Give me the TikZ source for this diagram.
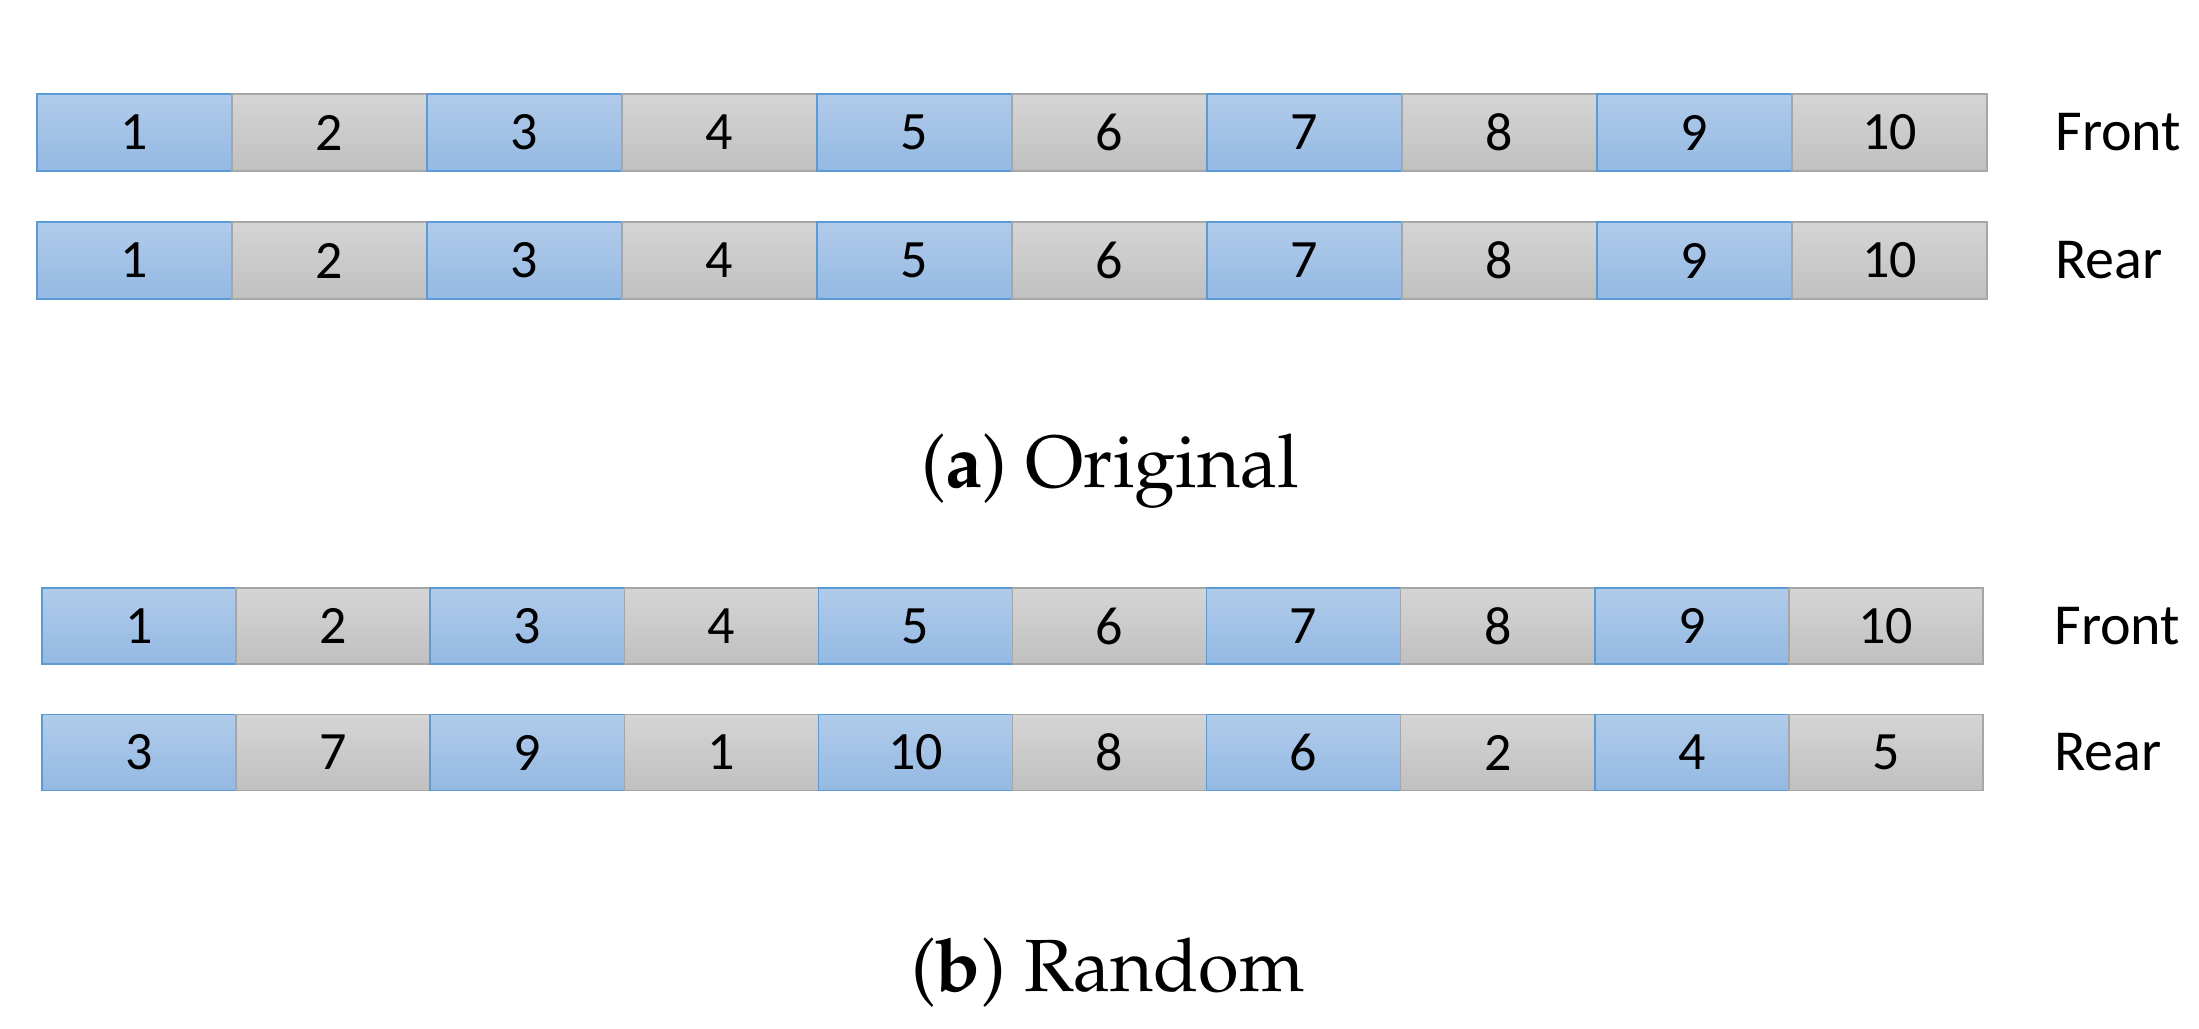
\documentclass[tikz,border=0pt]{standalone}
\usepackage[T1]{fontenc}
\usepackage{fontspec}
\setmainfont{Carlito}
\newcommand\palfont{\fontencoding{T1}\fontfamily{ppl}\selectfont}
\definecolor{bluetop}{RGB}{177,203,234}
\definecolor{bluebot}{RGB}{148,185,227}
\definecolor{bluebd}{RGB}{91,155,213}
\definecolor{graytop}{RGB}{213,213,213}
\definecolor{graybot}{RGB}{192,192,192}
\definecolor{graybd}{RGB}{166,166,166}
\begin{document}
\begin{tikzpicture}[x=0.5pt,y=-0.5pt,
  cell/.style={line width=0.75pt, inner sep=0pt, font=\fontsize{27}{30}\selectfont},
  lab/.style={anchor=west, inner sep=0pt, font=\fontsize{29}{32}\selectfont},
  capt/.style={anchor=base, inner sep=0pt, font=\palfont\fontsize{37}{40}\selectfont}]
\useasboundingbox (0,0) rectangle (2199,1028);
% (a) front
\foreach \n [count=\i] in {1,2,3,4,5,6,7,8,9,10} {
  \ifodd\i \def\tc{bluetop}\def\bc{bluebot}\def\dc{bluebd}\else\def\tc{graytop}\def\bc{graybot}\def\dc{graybd}\fi
  \node[cell, top color=\tc, bottom color=\bc, draw=\dc, minimum width=97.5pt, minimum height=38.5pt] (af\i) at ({37+195*(\i-0.5)},132.5) {\n};
}
% (a) rear
\foreach \n [count=\i] in {1,2,3,4,5,6,7,8,9,10} {
  \ifodd\i \def\tc{bluetop}\def\bc{bluebot}\def\dc{bluebd}\else\def\tc{graytop}\def\bc{graybot}\def\dc{graybd}\fi
  \node[cell, top color=\tc, bottom color=\bc, draw=\dc, minimum width=97.5pt, minimum height=38.5pt] (ar\i) at ({37+195*(\i-0.5)},260.5) {\n};
}
% (b) front
\foreach \n [count=\i] in {1,2,3,4,5,6,7,8,9,10} {
  \ifodd\i \def\tc{bluetop}\def\bc{bluebot}\def\dc{bluebd}\else\def\tc{graytop}\def\bc{graybot}\def\dc{graybd}\fi
  \node[cell, top color=\tc, bottom color=\bc, draw=\dc, minimum width=97.05pt, minimum height=38pt] (bf\i) at ({42+194.1*(\i-0.5)},626) {\n};
}
% (b) rear
\foreach \n [count=\i] in {3,7,9,1,10,8,6,2,4,5} {
  \ifodd\i \def\tc{bluetop}\def\bc{bluebot}\def\dc{bluebd}\else\def\tc{graytop}\def\bc{graybot}\def\dc{graybd}\fi
  \node[cell, top color=\tc, bottom color=\bc, draw=\dc, minimum width=97.05pt, minimum height=38pt] (br\i) at ({42+194.1*(\i-0.5)},752.5) {\n};
}
\node[lab] (afl) at (2055,132.5) {Front};
\node[lab] (arl) at (2055,260.5) {Rear};
\node[lab] (bfl) at (2054,626) {Front};
\node[lab] (brl) at (2054,752.5) {Rear};
\node[capt] (capa) at (1110,487) {(\textbf{a}) Original};
\node[capt] (capb) at (1108,991) {(\textbf{b}) Random};
\end{tikzpicture}
\end{document}
